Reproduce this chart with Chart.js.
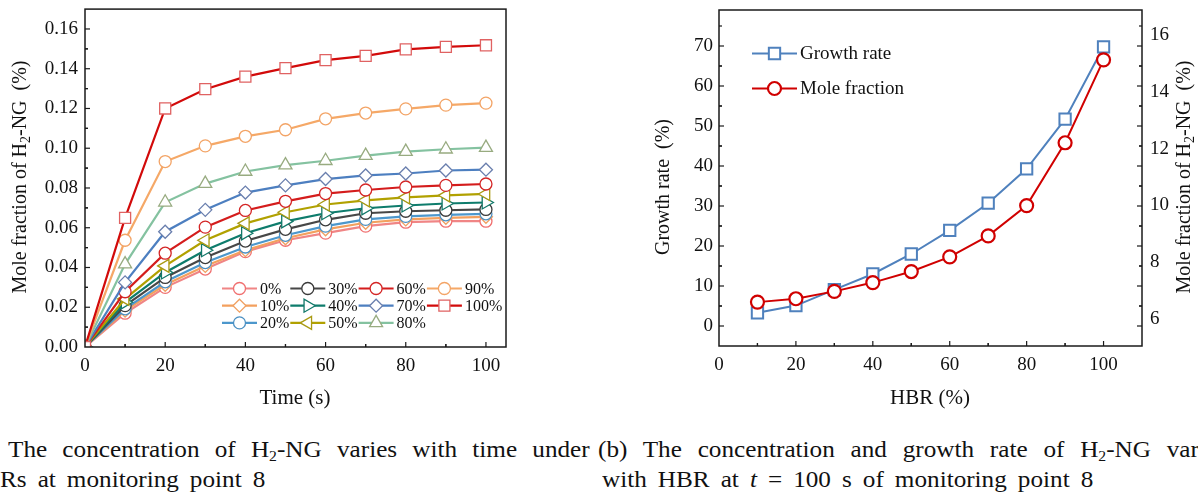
<!DOCTYPE html>
<html>
<head>
<meta charset="utf-8">
<script src="https://cdn.jsdelivr.net/npm/chart.js@4.4.1/dist/chart.umd.min.js"></script>
<style>
  html, body { margin: 0; padding: 0; background: #fff; }
  body { width: 1198px; height: 495px; position: relative; overflow: hidden;
         font-family: 'Liberation Serif', 'Times New Roman', serif; color: #111; }
  canvas { position: absolute; top: 0; }
  #chart-tempo { left: 0; }
  #chart-hbr { left: 600px; }
  .legenda-fig { position: absolute; font-size: 24px; line-height: 24px; white-space: nowrap;
                 transform-origin: left top; transform: scaleX(1.05); word-spacing: 4.5px; }
  .legenda-fig.just { white-space: normal; text-align: justify; text-align-last: justify; word-spacing: 0; }
  .legenda-fig sub { font-size: 15px; line-height: 0; vertical-align: -4px; }
</style>
</head>
<body>
<canvas id="chart-tempo" width="520" height="420"></canvas>
<canvas id="chart-hbr" width="598" height="420"></canvas>

<div class="legenda-fig just" style="left:8px; top:437px; width:554px;">The concentration of H<sub>2</sub>-NG varies with time under</div>
<div class="legenda-fig just" style="left:598px; top:437px; width:599px;">(b) The concentration and growth rate of H<sub>2</sub>-NG varies</div>
<div class="legenda-fig" style="left:0; top:467px;">Rs at monitoring point 8</div>
<div class="legenda-fig" style="left:602px; top:467px;">with HBR at <i>t</i> = 100 s of monitoring point 8</div>

<script>
// ─── Dados (a): fração molar x tempo ──────────────────────────────────────────
const tempos   = [0, 10, 20, 30, 40, 50, 60, 70, 80, 90, 100];
const rotulosHbr = ['0%', '10%', '20%', '30%', '40%', '50%', '60%', '70%', '80%', '90%', '100%'];
const frac0   = [0, 0.0170, 0.0300, 0.0392, 0.0480, 0.0537, 0.0573, 0.0608, 0.0628, 0.0633, 0.0633];
const frac10  = [0, 0.0183, 0.0313, 0.0408, 0.0487, 0.0547, 0.0592, 0.0625, 0.0642, 0.0650, 0.0655];
const frac20  = [0, 0.0192, 0.0328, 0.0425, 0.0503, 0.0562, 0.0608, 0.0642, 0.0657, 0.0665, 0.0670];
const frac30  = [0, 0.0208, 0.0350, 0.0450, 0.0533, 0.0592, 0.0640, 0.0673, 0.0683, 0.0688, 0.0692];
const frac40  = [0, 0.0225, 0.0375, 0.0487, 0.0572, 0.0632, 0.0673, 0.0698, 0.0712, 0.0722, 0.0727];
const frac50  = [0, 0.0242, 0.0408, 0.0537, 0.0622, 0.0678, 0.0717, 0.0738, 0.0753, 0.0763, 0.0770];
const frac60  = [0, 0.0278, 0.0472, 0.0603, 0.0687, 0.0733, 0.0772, 0.0790, 0.0805, 0.0813, 0.0820];
const frac70  = [0, 0.0325, 0.0580, 0.0690, 0.0777, 0.0813, 0.0845, 0.0863, 0.0873, 0.0888, 0.0892];
const frac80  = [0, 0.0417, 0.0728, 0.0822, 0.0883, 0.0915, 0.0937, 0.0963, 0.0983, 0.0995, 0.1003];
const frac90  = [0, 0.0537, 0.0933, 0.1012, 0.1060, 0.1093, 0.1148, 0.1177, 0.1198, 0.1217, 0.1227];
const frac100 = [0, 0.0650, 0.1200, 0.1297, 0.1360, 0.1403, 0.1443, 0.1465, 0.1497, 0.1510, 0.1518];
const ticksTempo = [0, 20, 40, 60, 80, 100];
const ticksFrac  = [0, 0.02, 0.04, 0.06, 0.08, 0.10, 0.12, 0.14, 0.16];

// ─── Dados (b): taxa de crescimento e fração x HBR ────────────────────────────
const hbr          = [10, 20, 30, 40, 50, 60, 70, 80, 90, 100];
const taxaCresc    = [3.3, 5.1, 9.1, 13.0, 18.0, 23.9, 30.7, 39.3, 51.7, 69.8];
const fracaoMolar  = [6.58, 6.70, 6.96, 7.27, 7.66, 8.18, 8.92, 9.99, 12.21, 15.14];
const ticksHbr     = [0, 20, 40, 60, 80, 100];
const ticksTaxa    = [0, 10, 20, 30, 40, 50, 60, 70];
const ticksFracDir = [6, 8, 10, 12, 14, 16];

const FAMILIA = "'Liberation Serif', 'Times New Roman', serif";
Chart.defaults.font.family = FAMILIA;
Chart.defaults.color = '#111';

// ─── Plugin: moldura + marcas internas ────────────────────────────────────────
const quadro = {
  id: 'quadro',
  afterDatasetsDraw(chart, _args, opts) {
    const { ctx, chartArea: a, scales } = chart;
    ctx.save();
    ctx.strokeStyle = '#1a1a1a';
    ctx.lineWidth = 1.5;
    ctx.strokeRect(a.left, a.top, a.right - a.left, a.bottom - a.top);
    ctx.lineWidth = 1.2;
    const marca = (scale, vals, len, lado) => {
      vals.forEach(v => {
        const p = scale.getPixelForValue(v);
        ctx.beginPath();
        if (lado === 'bottom')    { ctx.moveTo(p, a.bottom); ctx.lineTo(p, a.bottom - len); }
        else if (lado === 'left') { ctx.moveTo(a.left, p);   ctx.lineTo(a.left + len, p); }
        else                      { ctx.moveTo(a.right, p);  ctx.lineTo(a.right - len, p); }
        ctx.stroke();
      });
    };
    (opts.marcas || []).forEach(m => {
      const s = scales[m.scale];
      const menores = [];
      m.ticks.forEach(v => menores.push(v - m.passo / 2, v + m.passo / 2));
      const eps = (s.max - s.min) * 1e-4;
      marca(s, m.ticks.filter(v => v > s.min + eps && v < s.max - eps), 5, m.lado);
      marca(s, menores.filter(v => v > s.min + eps && v < s.max - eps), 3, m.lado);
    });
    ctx.restore();
  }
};

// ─── Plugin: títulos dos eixos (com subscrito) ────────────────────────────────
const titulos = {
  id: 'titulos',
  afterDraw(chart, _args, opts) {
    const { ctx } = chart;
    (opts.itens || []).forEach(t => {
      ctx.save();
      ctx.translate(t.x, t.y);
      if (t.rot) ctx.rotate(-Math.PI / 2);
      ctx.fillStyle = '#111';
      ctx.textBaseline = 'alphabetic';
      const tam = t.tam || 20;
      const fonte = sub => `${sub ? 14 : tam}px ${FAMILIA}`;
      let total = 0;
      t.partes.forEach(([txt, sub]) => { ctx.font = fonte(sub); total += ctx.measureText(txt).width; });
      let x = -total / 2;
      t.partes.forEach(([txt, sub]) => {
        ctx.font = fonte(sub);
        ctx.fillText(txt, x, sub ? 11 : 7);
        x += ctx.measureText(txt).width;
      });
      ctx.restore();
    });
  }
};

// ─── Plugin: legenda em grade ─────────────────────────────────────────────────
const legendaGrade = {
  id: 'legendaGrade',
  afterDraw(chart, _args, opts) {
    const { ctx } = chart;
    chart.data.datasets.forEach((ds, i) => {
      const col = Math.floor(i / opts.linhas), lin = i % opts.linhas;
      const x = opts.x + col * opts.dx, y = opts.y + lin * opts.dy;
      ctx.save();
      ctx.strokeStyle = ds.borderColor;
      ctx.lineWidth = ds.borderWidth;
      ctx.beginPath(); ctx.moveTo(x, y); ctx.lineTo(x + opts.comp, y); ctx.stroke();
      ctx.fillStyle = '#fff';
      ctx.strokeStyle = ds.pointBorderColor;
      ctx.lineWidth = ds.pointBorderWidth;
      Chart.helpers.drawPoint(ctx, {
        pointStyle: ds.pointStyle, radius: ds.pointRadius,
        rotation: ds.pointRotation || 0, borderWidth: ds.pointBorderWidth,
      }, x + opts.comp / 2, y);
      ctx.fillStyle = '#111';
      ctx.font = `${opts.tamanho}px ${FAMILIA}`;
      ctx.textBaseline = 'middle';
      ctx.fillText(ds.label, x + opts.comp + 3, y + 1);
      ctx.restore();
    });
  }
};

// ─── Estilos das séries (a) ───────────────────────────────────────────────────
const seriesFrac = [frac0, frac10, frac20, frac30, frac40, frac50, frac60, frac70, frac80, frac90, frac100];
const coresLinha = ['#f08585', '#f3a05e', '#4c97cc', '#474747', '#0e7c6c', '#b1a100',
                    '#d41c1c', '#4d7fc0', '#84c2a0', '#f5a867', '#d20a0a'];
const coresBorda = ['#f06f6f', '#f0a062', '#4a8fc2', '#3a3a3a', '#117869', '#a99a12',
                    '#d42525', '#6a7fae', '#98ab80', '#f3a466', '#e06262'];
const estilos = ['circle', 'rectRot', 'circle', 'circle', 'triangle', 'triangle',
                 'circle', 'rectRot', 'triangle', 'circle', 'rect'];
const rotacoes = [0, 0, 0, 0, 90, -90, 0, 0, 0, 0, 0];
const raios = { circle: 6, rectRot: 6.5, triangle: 7.5, rect: 7.8 };

const datasetsTempo = seriesFrac.map((serie, i) => ({
  label: rotulosHbr[i],
  data: tempos.map((t, k) => ({ x: t, y: serie[k] })),
  borderColor: coresLinha[i],
  borderWidth: 2.2,
  pointStyle: estilos[i],
  pointRotation: rotacoes[i],
  pointRadius: raios[estilos[i]],
  pointBorderColor: coresBorda[i],
  pointBorderWidth: 1.3,
  pointBackgroundColor: '#fff',
  tension: 0,
  order: seriesFrac.length - i,
}));

// eixo com ticks fixos, largura/altura fixa e sem padding automático
const eixoFixo = (lista, fmt, tam, pad, extra) => Object.assign({
  type: 'linear',
  grid: { display: false, drawTicks: false },
  border: { display: false },
  ticks: { font: { size: 19 }, color: '#111', autoSkip: false, maxRotation: 0, padding: pad, callback: fmt },
  afterBuildTicks: s => { s.ticks = lista.map(v => ({ value: v })); },
  afterFit: s => {
    if (s.isHorizontal()) s.height = tam; else s.width = tam;
    s.paddingTop = s.paddingBottom = s.paddingLeft = s.paddingRight = 0;
  },
}, extra);

// ─── Gráfico (a) ──────────────────────────────────────────────────────────────
new Chart(document.getElementById('chart-tempo'), {
  type: 'line',
  data: { datasets: datasetsTempo },
  options: {
    responsive: false,
    animation: false,
    layout: { padding: { top: 7, right: 14, left: 0, bottom: 0 } },
    plugins: {
      legend: { display: false },
      tooltip: { enabled: false },
      quadro: { marcas: [
        { scale: 'x', ticks: ticksTempo, passo: 20, lado: 'bottom' },
        { scale: 'y', ticks: ticksFrac, passo: 0.02, lado: 'left' },
      ] },
      titulos: { itens: [
        { x: 295, y: 397, tam: 21, partes: [['Time (s)']] },
        { x: 19, y: 177, rot: true, partes: [['Mole fraction of H'], ['2', true], ['-NG  (%)']] },
      ] },
      legendaGrade: { x: 222, y: 288.5, dx: 68.3, dy: 17.2, linhas: 3, comp: 35, tamanho: 16 },
    },
    scales: {
      x: eixoFixo(ticksTempo, v => v, 73, 8, { min: 0, max: 105 }),
      y: eixoFixo(ticksFrac, v => v.toFixed(2), 85, 7, { min: 0, max: 0.17 }),
    },
  },
  plugins: [quadro, titulos, legendaGrade],
});

// ─── Gráfico (b) ──────────────────────────────────────────────────────────────
new Chart(document.getElementById('chart-hbr'), {
  type: 'line',
  data: {
    datasets: [
      {
        label: 'Growth rate',
        data: hbr.map((h, k) => ({ x: h, y: taxaCresc[k] })),
        yAxisID: 'y',
        borderColor: '#4f81bd',
        borderWidth: 2,
        pointStyle: 'rect',
        pointRadius: 8,
        pointBorderColor: '#4f81bd',
        pointBorderWidth: 2,
        pointBackgroundColor: '#fff',
        order: 1,
      },
      {
        label: 'Mole fraction',
        data: hbr.map((h, k) => ({ x: h, y: fracaoMolar[k] })),
        yAxisID: 'y2',
        borderColor: '#d00000',
        borderWidth: 2,
        pointStyle: 'circle',
        pointRadius: 6.5,
        pointBorderColor: '#d00000',
        pointBorderWidth: 2.2,
        pointBackgroundColor: '#fff',
        order: 0,
      },
    ],
  },
  options: {
    responsive: false,
    animation: false,
    layout: { padding: { top: 7, right: 0, left: 0, bottom: 0 } },
    plugins: {
      legend: { display: false },
      tooltip: { enabled: false },
      quadro: { marcas: [
        { scale: 'x', ticks: ticksHbr, passo: 20, lado: 'bottom' },
        { scale: 'y', ticks: ticksTaxa, passo: 10, lado: 'left' },
        { scale: 'y', ticks: ticksTaxa, passo: 10, lado: 'right' },
      ] },
      titulos: { itens: [
        { x: 330, y: 397, tam: 21, partes: [['HBR (%)']] },
        { x: 62, y: 187, rot: true, partes: [['Growth rate  (%)']] },
        { x: 583, y: 177, rot: true, partes: [['Mole fraction of H'], ['2', true], ['-NG  (%)']] },
      ] },
      legendaGrade: { x: 152, y: 53.5, dx: 0, dy: 35, linhas: 2, comp: 45, tamanho: 19 },
    },
    scales: {
      x: eixoFixo(ticksHbr, v => v, 74, 8, { min: 0, max: 110 }),
      y: eixoFixo(ticksTaxa, v => v, 119, 6, { position: 'left', min: -5, max: 79 }),
      y2: eixoFixo(ticksFracDir, v => v, 56, 8, { position: 'right', min: 5.03, max: 16.9 }),
    },
  },
  plugins: [quadro, titulos, legendaGrade],
});
</script>
</body>
</html>
